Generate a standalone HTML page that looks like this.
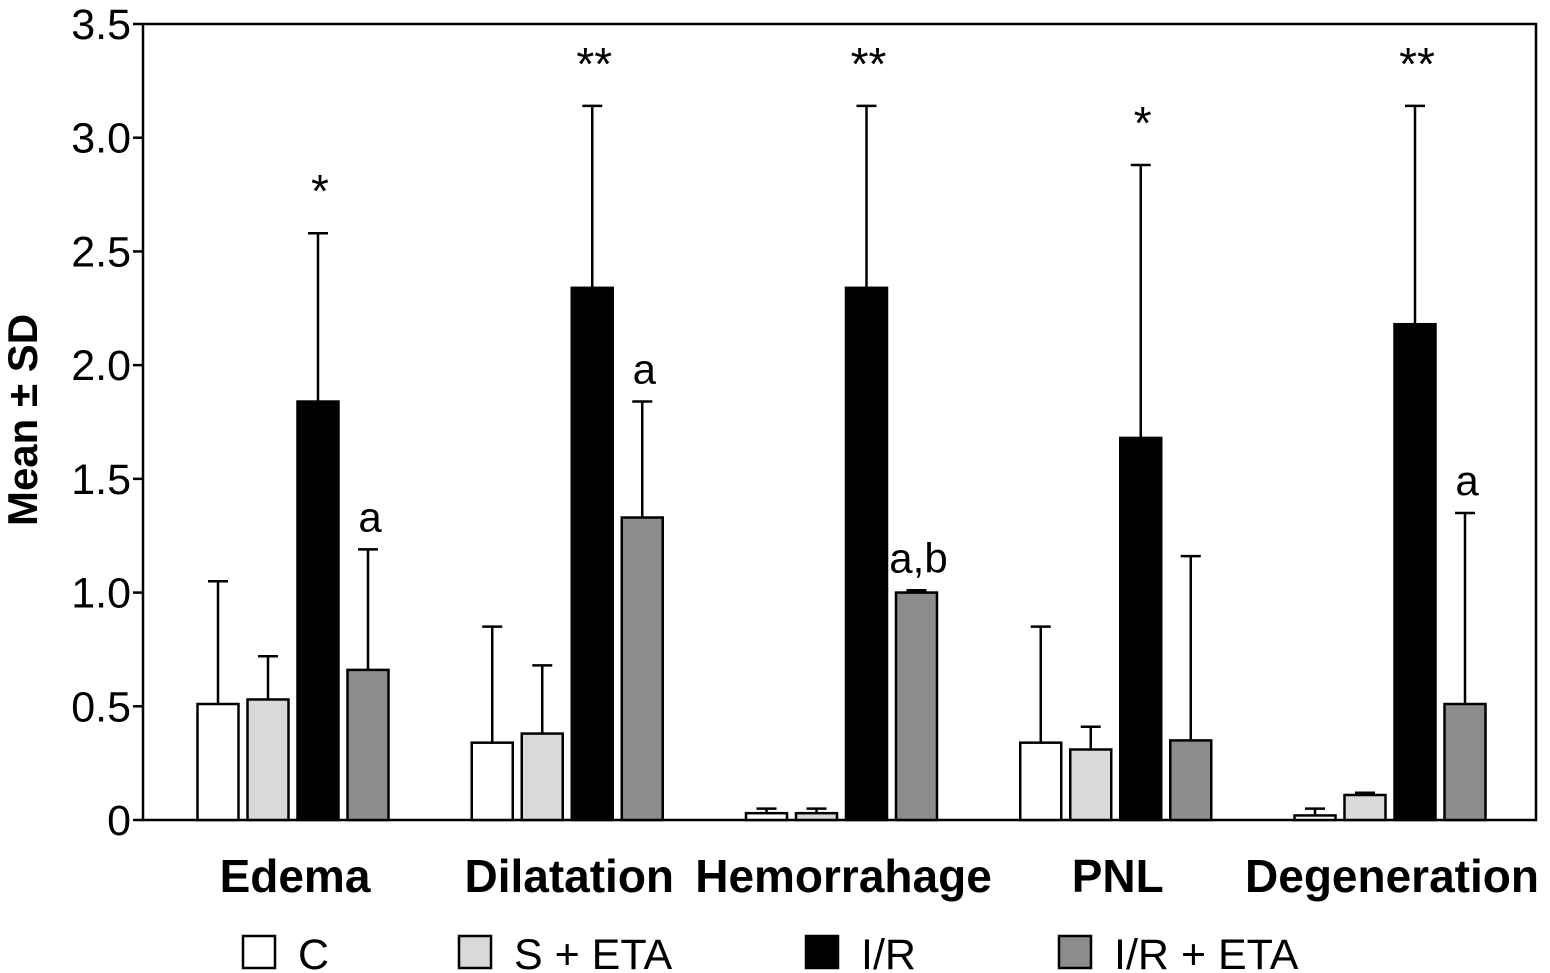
<!DOCTYPE html>
<html><head><meta charset="utf-8"><style>
html,body{margin:0;padding:0;background:#fff;}
svg{display:block;font-family:"Liberation Sans","DejaVu Sans",sans-serif;}
</style></head><body>
<svg id="chart" width="1550" height="973" viewBox="0 0 1550 973"></svg>
<script>
const categories=["Edema","Dilatation","Hemorrahage","PNL","Degeneration"];
const seriesNames=["C","S + ETA","I/R","I/R + ETA"];
const meanC=[0.51,0.34,0.03,0.34,0.02];
const meanS=[0.53,0.38,0.03,0.31,0.11];
const meanIR=[1.84,2.34,2.34,1.68,2.18];
const meanETA=[0.66,1.33,1.0,0.35,0.51];
const upperC=[1.05,0.85,0.05,0.85,0.05];
const upperS=[0.72,0.68,0.05,0.41,0.12];
const upperIR=[2.58,3.14,3.14,2.88,3.14];
const upperETA=[1.19,1.84,1.01,1.16,1.35];
const annIR=["*","**","**","*","**"];
const annETA=["a","a","a,b","","a"];
const yTicks=[0,0.5,1.0,1.5,2.0,2.5,3.0,3.5];
const yTickLabels=["0","0.5","1.0","1.5","2.0","2.5","3.0","3.5"];

const NS="http://www.w3.org/2000/svg";
const svg=document.getElementById('chart');
const L=143,R=1536,T=24,B=820,yMax=3.5;
const y=v=>B-(v/yMax)*(B-T);
const groupCenter=i=>293+i*274.25;
const barW=41, barStep=50;
const colors=["#ffffff","#d9d9d9","#000000","#8c8c8c"];
function el(tag,attrs,parent){const e=document.createElementNS(NS,tag);for(const k in attrs)e.setAttribute(k,attrs[k]);(parent||svg).appendChild(e);return e;}

const frame=el('rect',{x:L,y:T,width:R-L,height:B-T,fill:'none',stroke:'#000','stroke-width':2.5});



yTicks.forEach((v,i)=>{
  const t=el('line',{x1:L-10,x2:L,y1:y(v),y2:y(v),stroke:'#000','stroke-width':2.5});
  
  
  const tx=el('text',{x:131,y:y(v)+15,'text-anchor':'end','font-size':43});
  tx.textContent=yTickLabels[i];
  
  
});
const yt=el('text',{x:0,y:0,'font-size':42,'font-weight':'bold','text-anchor':'middle',transform:'translate(37,420) rotate(-90)'});
yt.textContent="Mean ± SD";



const means=[meanC,meanS,meanIR,meanETA];
const uppers=[upperC,upperS,upperIR,upperETA];
categories.forEach((c,i)=>{
  const cx=groupCenter(i);
  for(let s=0;s<4;s++){
    const x0=cx-2*barStep+s*barStep+4.5;
    const xm=x0+barW/2;
    const eb=el('line',{x1:xm,x2:xm,y1:y(uppers[s][i]),y2:y(means[s][i]),stroke:'#000','stroke-width':2.5});
    
    
    const cap=el('line',{x1:xm-10,x2:xm+10,y1:y(uppers[s][i]),y2:y(uppers[s][i]),stroke:'#000','stroke-width':2.5});
    
    
    const b=el('rect',{x:x0,y:y(means[s][i]),width:barW,height:B-y(means[s][i]),fill:colors[s],stroke:'#000','stroke-width':2.5});
    
    
    let ann=s===2?annIR[i]:(s===3?annETA[i]:"");
    if(ann){
      const a=el('text',{x:xm+2,y:s===2?y(uppers[s][i])-26:y(uppers[s][i])-18,'text-anchor':'middle','font-size':s===2?46:42});
      a.textContent=ann;
      
      
    }
  }
  const lab=el('text',{x:cx+2,y:892,'text-anchor':'middle','font-size':46,'font-weight':'bold'});
  lab.textContent=c;
  
  
});

const legX=[243,459,806,1059];
seriesNames.forEach((n,s)=>{
  const r=el('rect',{x:legX[s],y:936,width:32,height:32,fill:colors[s],stroke:'#000','stroke-width':2.5});
  
  
  const t=el('text',{x:legX[s]+55,y:969,'font-size':43});
  t.textContent=n;
  
  
});
</script>
</body></html>
